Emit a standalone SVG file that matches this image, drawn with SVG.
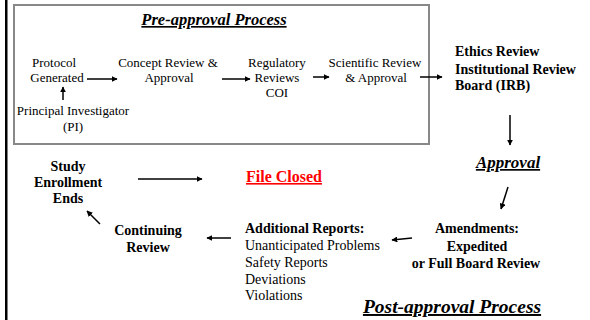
<svg xmlns="http://www.w3.org/2000/svg" width="590" height="320" viewBox="0 0 590 320" font-family="Liberation Serif, Times New Roman, serif">
<defs>
<marker id="ah" viewBox="0 0 10 10" refX="9" refY="5" markerWidth="6" markerHeight="6" markerUnits="userSpaceOnUse" orient="auto">
<path d="M0,0 L10,5 L0,10 z" fill="#000"/>
</marker>
<style>
.n{font-size:13px}
.m{font-size:14px}
.b{font-size:14px;font-weight:bold}
.t{font-weight:bold;font-style:italic;text-decoration:underline}
.c{text-anchor:middle}
.conn line{stroke:#000;stroke-width:1.5;marker-end:url(#ah)}
</style>
</defs>
<rect width="590" height="320" fill="#fff"/>
<rect x="5" y="0" width="2.5" height="320" fill="#000"/>
<rect id="pre-box" x="14" y="5" width="415" height="139" fill="none" stroke="#888" stroke-width="2"/>
<text class="t c" x="214" y="25" font-size="16.5">Pre-approval Process</text>
<g id="protocol"><text class="n c" x="54" y="67">Protocol</text><text class="n c" x="57" y="82">Generated</text></g>
<g id="pi"><text class="n c" x="73" y="115">Principal Investigator</text><text class="n c" x="73" y="131">(PI)</text></g>
<g id="concept"><text class="n c" x="168" y="67">Concept Review &amp;</text><text class="n c" x="169" y="82">Approval</text></g>
<g id="regulatory"><text class="n c" x="277" y="67">Regulatory</text><text class="n c" x="277" y="82">Reviews</text><text class="n c" x="277" y="97">COI</text></g>
<g id="scientific"><text class="n c" x="375" y="67">Scientific Review</text><text class="n c" x="376" y="82">&amp; Approval</text></g>
<g id="ethics"><text class="b" x="455" y="56">Ethics Review</text><text class="b" x="455" y="74">Institutional Review</text><text class="b" x="455" y="90">Board (IRB)</text></g>
<g id="approval"><text class="t c" x="508" y="168" font-size="17">Approval</text></g>
<g id="amendments"><text class="b c" x="477" y="233" font-size="14.5">Amendments:</text><text class="b c" x="477" y="251" font-size="14.5">Expedited</text><text class="b c" x="476" y="268" font-size="14.5">or Full Board Review</text></g>
<g id="additional"><text class="b" x="245" y="233">Additional Reports:</text><text class="m" x="245" y="250">Unanticipated Problems</text><text class="m" x="245" y="267">Safety Reports</text><text class="m" x="245" y="284">Deviations</text><text class="m" x="245" y="300">Violations</text></g>
<g id="continuing"><text class="b c" x="148" y="235">Continuing</text><text class="b c" x="148" y="252">Review</text></g>
<g id="study"><text class="b c" x="68" y="171">Study</text><text class="b c" x="68" y="187">Enrollment</text><text class="b c" x="68" y="203">Ends</text></g>
<g id="closed"><text x="246" y="182" font-size="16" font-weight="bold" text-decoration="underline" fill="#f00">File Closed</text></g>
<g id="post"><text class="t c" x="452" y="313" font-size="19.5">Post-approval Process</text></g>
<g class="conn" id="connectors">
<line x1="63" y1="100" x2="63" y2="87"/>
<line x1="87" y1="79" x2="117" y2="79"/>
<line x1="222" y1="79" x2="250" y2="79"/>
<line x1="313" y1="77" x2="329" y2="77"/>
<line x1="420" y1="77" x2="442" y2="77"/>
<line x1="510" y1="115" x2="510" y2="145"/>
<line x1="508" y1="187" x2="501" y2="209"/>
<line x1="412" y1="238" x2="392" y2="240"/>
<line x1="231" y1="238" x2="207" y2="238"/>
<line x1="100" y1="224" x2="87" y2="211"/>
<line x1="138" y1="179" x2="202" y2="179"/>
</g>
</svg>
